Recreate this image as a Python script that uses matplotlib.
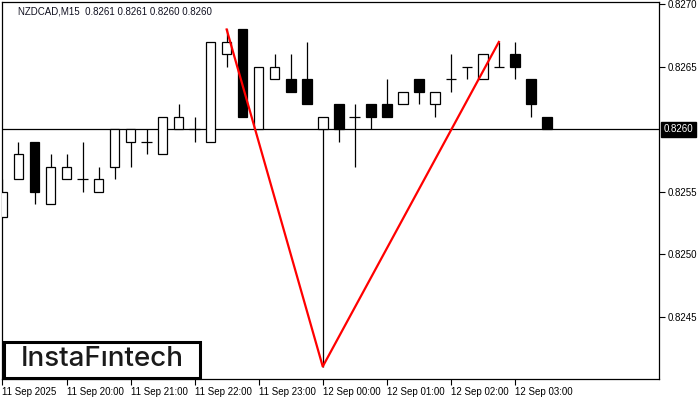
import matplotlib.pyplot as plt
import matplotlib.patches as patches
import numpy as np

# NZDCAD M15 candles, 11 Sep 19:00 -> 12 Sep 03:30
opens = [0.8253, 0.8256, 0.8259, 0.8254, 0.8256, 0.8256, 0.8255, 0.8257, 0.8259, 0.8259,
         0.8258, 0.8260, 0.8260, 0.8259, 0.8266, 0.8268, 0.8260, 0.8264, 0.8264, 0.8264,
         0.8260, 0.8262, 0.8261, 0.8262, 0.8262, 0.8262, 0.8264, 0.8262, 0.8264, 0.8265,
         0.8264, 0.8265, 0.8266, 0.8264, 0.8261]
highs = [0.8256, 0.8259, 0.8259, 0.8258, 0.8258, 0.8259, 0.8257, 0.8260, 0.8260, 0.8260,
         0.8261, 0.8262, 0.8261, 0.8267, 0.8268, 0.8268, 0.8265, 0.8266, 0.8266, 0.8267,
         0.8261, 0.8262, 0.8262, 0.8262, 0.8264, 0.8263, 0.8264, 0.8263, 0.8266, 0.8265,
         0.8266, 0.8267, 0.8267, 0.8264, 0.8261]
lows = [0.8253, 0.8256, 0.8254, 0.8254, 0.8256, 0.8255, 0.8255, 0.8256, 0.8257, 0.8258,
        0.8258, 0.8260, 0.8259, 0.8259, 0.8265, 0.8261, 0.8260, 0.8264, 0.8263, 0.8262,
        0.8241, 0.8259, 0.8257, 0.8260, 0.8261, 0.8262, 0.8262, 0.8261, 0.8263, 0.8264,
        0.8264, 0.8265, 0.8264, 0.8261, 0.8260]
closes = [0.8255, 0.8258, 0.8255, 0.8257, 0.8257, 0.8256, 0.8256, 0.8260, 0.8260, 0.8259,
          0.8261, 0.8261, 0.8260, 0.8267, 0.8267, 0.8261, 0.8265, 0.8265, 0.8263, 0.8262,
          0.8261, 0.8260, 0.8261, 0.8261, 0.8261, 0.8263, 0.8263, 0.8263, 0.8264, 0.8265,
          0.8266, 0.8265, 0.8265, 0.8262, 0.8260]

time_labels = ["11 Sep 2025", "11 Sep 20:00", "11 Sep 21:00", "11 Sep 22:00", "11 Sep 23:00",
               "12 Sep 00:00", "12 Sep 01:00", "12 Sep 02:00", "12 Sep 03:00"]
time_ticks = [0, 4, 8, 12, 16, 20, 24, 28, 32]
price_ticks = [0.8245, 0.8250, 0.8255, 0.8265, 0.8270]

# double bottom pattern: top, bottom, top (candle index, price)
pattern_idx = [14, 20, 31]
pattern_px = [0.8268, 0.8241, 0.8267]

last_price = 0.8260
title = "NZDCAD,M15  0.8261 0.8261 0.8260 0.8260"

plt.rcParams['font.family'] = ['Liberation Sans', 'DejaVu Sans']
fig = plt.figure(figsize=[7, 4], dpi=100)
ax = fig.add_axes([2/700, 21/400, 657/700, 377/400])

x = np.arange(len(opens))
o = np.array(opens); c = np.array(closes)
h = np.array(highs); l = np.array(lows)

ax.vlines(x, l, h, color='black', lw=0.9, zorder=2)
w = 0.6
for i in x:
    if o[i] == c[i]:
        ax.hlines(o[i], i - 0.33, i + 0.33, color='black', lw=0.9, zorder=3)
        continue
    bull = c[i] > o[i]
    bottom = min(o[i], c[i])
    ax.bar(i, abs(c[i] - o[i]), w, bottom=bottom,
           facecolor='white' if bull else 'black', edgecolor='black', lw=0.9, zorder=3)

ax.axhline(last_price, color='black', lw=0.9, zorder=1)
ax.plot(pattern_idx, pattern_px, color='#ff0000', lw=1.6, zorder=4)

ax.set_xlim(-0.03, 41)
ax.set_ylim(0.82400, 0.82702)

ax.set_xticks(time_ticks)
ax.set_xticklabels(time_labels, ha='left')
ax.set_yticks(price_ticks)
ax.set_yticklabels(["%.4f" % p for p in price_ticks])
ax.yaxis.tick_right()
ax.tick_params(axis='both', direction='out', length=4, width=0.8, labelsize=7, pad=2)
for s in ax.spines.values():
    s.set_linewidth(0.9)

ax.text(1.007, last_price, "%.4f" % last_price, transform=ax.get_yaxis_transform(),
        color='white', fontsize=7, va='center', ha='left',
        bbox=dict(boxstyle='square,pad=0.25', facecolor='black', edgecolor='black'))

fig.text(18/700, 1 - 11/400, title, fontsize=7, va='center', ha='left', color='#101020')

# logo
fig.patches.append(patches.Rectangle((4/700, 22/400), 196/700, 36/400, transform=fig.transFigure,
                                     facecolor='white', edgecolor='black', lw=2.2, zorder=10))
fig.text(102/700, 1 - 359/400, "InstaFıntech", fontsize=20, ha='center', va='center',
         family=['Inter', 'DejaVu Sans'], fontweight='medium', color='#1a1a1a', zorder=11)

plt.savefig('out.png', dpi=100)
